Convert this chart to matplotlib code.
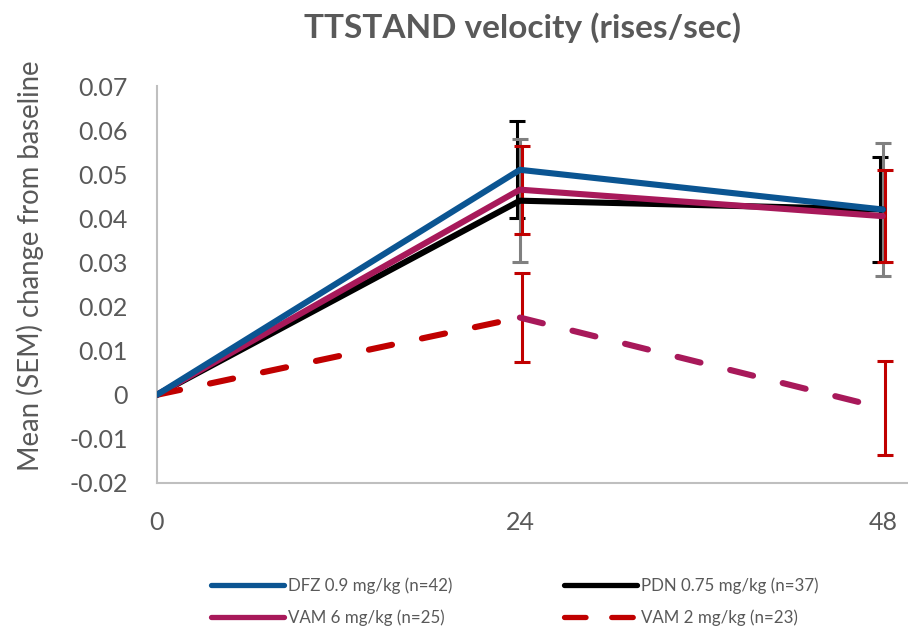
import matplotlib
matplotlib.use("Agg")
import matplotlib.pyplot as plt
import matplotlib.transforms as mtransforms
from matplotlib.lines import Line2D

plt.rcParams['font.family'] = ['Lato', 'DejaVu Sans']
plt.rcParams['lines.scale_dashes'] = False

hours = [0, 24, 48]
tick_labels = ["0", "24", "48"]

dfz = [0.0, 0.051, 0.042]
dfz_sem = [0.0, 0.011, 0.012]
pdn = [0.0, 0.044, 0.042]
pdn_sem = [0.0, 0.014, 0.015]
vam6 = [0.0, 0.0465, 0.0405]
vam6_sem = [0.0, 0.010, 0.0105]
vam2 = [0.0, 0.0175, -0.003]
vam2_sem = [0.0, 0.010, 0.0107]

labels = ["DFZ 0.9 mg/kg (n=42)", "PDN 0.75 mg/kg (n=37)",
          "VAM 6 mg/kg (n=25)", "VAM 2 mg/kg (n=23)"]

c_blue = "#0B5592"
c_black = "#000000"
c_mag = "#A8195A"
c_red = "#C00000"
c_gray = "#808080"
txt = "#595959"

fig = plt.figure(figsize=(9.08, 6.26), dpi=100)
ax = fig.add_axes([157/908, 1 - 483/626, 750/908, (483 - 86)/626])

lw = 4.4
eb_lw = 2.2

def ebar(y, e, color, dx):
    tr = mtransforms.offset_copy(ax.transData, fig=fig, x=dx, y=0, units='dots')
    ax.errorbar(hours[1:], y[1:], yerr=e[1:], fmt='none', ecolor=color,
                elinewidth=eb_lw, capsize=6, capthick=eb_lw, transform=tr, zorder=2)

ebar(dfz, dfz_sem, c_black, -3)
ebar(pdn, pdn_sem, c_gray, 0)
ebar(vam6, vam6_sem, c_red, 2)
ebar(vam2, vam2_sem, c_red, 2)

ax.plot(hours, pdn, color=c_black, lw=lw, solid_capstyle='round', solid_joinstyle='round', zorder=3)
ax.plot(hours, vam6, color=c_mag, lw=lw, solid_capstyle='round', solid_joinstyle='round', zorder=4)
ax.plot(hours, dfz, color=c_blue, lw=lw, solid_capstyle='round', solid_joinstyle='round', zorder=5)
ax.plot(hours[:2], vam2[:2], color=c_red, lw=lw, dashes=(17, 22), dash_capstyle='round', zorder=4)
ax.plot(hours[1:], vam2[1:], color=c_mag, lw=lw, dashes=(17, 22), dash_capstyle='round', zorder=4)

ax.set_xlim(0, 49.6)
ax.set_ylim(-0.02, 0.07)
ax.set_xticks(hours)
ax.set_xticklabels(tick_labels)
ax.set_yticks([-0.02, -0.01, 0, 0.01, 0.02, 0.03, 0.04, 0.05, 0.06, 0.07])
ax.set_yticklabels(["-0.02", "-0.01", "0", "0.01", "0.02", "0.03", "0.04", "0.05", "0.06", "0.07"])
ax.tick_params(axis='both', length=0, colors=txt, labelsize=18)
ax.tick_params(axis='y', pad=21)
ax.tick_params(axis='x', pad=20)
for s in ['top', 'right']:
    ax.spines[s].set_visible(False)
for s in ['left', 'bottom']:
    ax.spines[s].set_color("#BFBFBF")
    ax.spines[s].set_linewidth(1.5)

ax.set_ylabel("Mean (SEM) change from baseline", fontsize=19.8, color=txt)
ax.yaxis.set_label_coords(-113/750, 0.548)
fig.text(523/908, 1 - 28/626, "TTSTAND velocity (rises/sec)", ha='center', va='center',
         fontsize=24, fontweight='bold', color=txt)

hlw = 3.8
handles = [
    Line2D([], [], color=c_blue, lw=hlw, solid_capstyle='round'),
    Line2D([], [], color=c_mag, lw=hlw, solid_capstyle='round'),
    Line2D([], [], color=c_black, lw=hlw, solid_capstyle='round'),
    Line2D([], [], color=c_red, lw=hlw, dashes=(15.5, 18.5), dash_capstyle='round'),
]
leg_labels = [labels[0], labels[2], labels[1], labels[3]]
leg = fig.legend(handles, leg_labels, ncol=2, loc='center',
                 bbox_to_anchor=(515/908, 1 - 602/626), frameon=False,
                 fontsize=12.2, handlelength=4.3, handletextpad=0.25,
                 columnspacing=6.6, labelspacing=0.9)
for t in leg.get_texts():
    t.set_color(txt)

fig.savefig("out.png", dpi=100)
